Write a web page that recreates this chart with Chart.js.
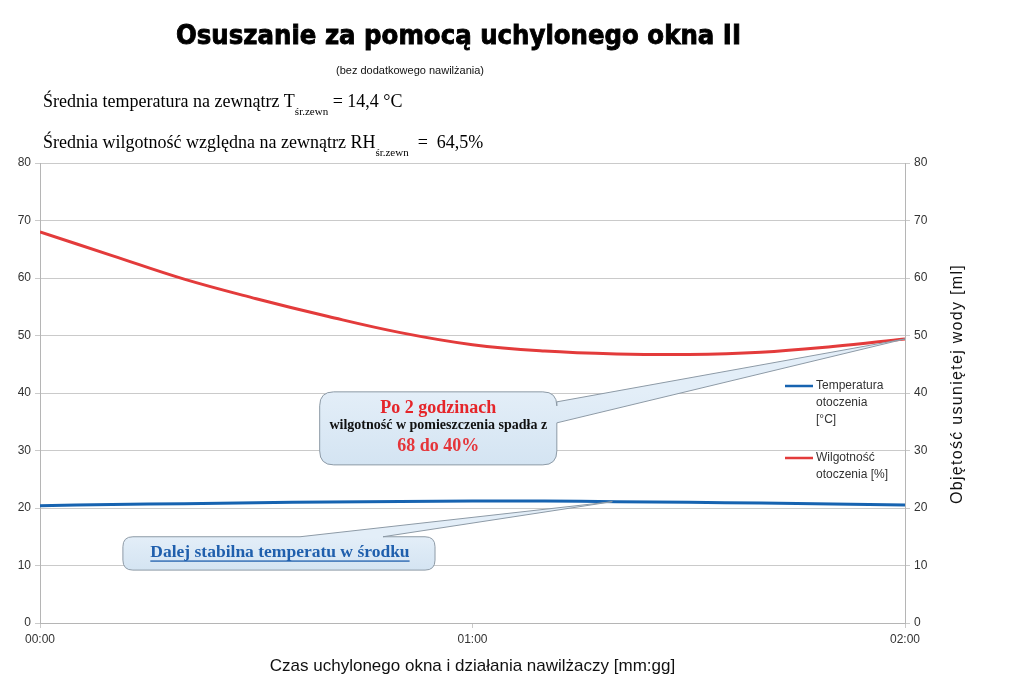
<!DOCTYPE html>
<html>
<head>
<meta charset="utf-8">
<script src="https://cdn.jsdelivr.net/npm/chart.js@4/dist/chart.umd.min.js"></script>
<style>
html,body{margin:0;padding:0;background:#fff;}
#wrap{width:1024px;height:690px;position:relative;}
</style>
</head>
<body>
<div id="wrap"><canvas id="c" width="1024" height="690"></canvas></div>
<script>
// ---- data ----
const timeMinutes = [0, 10, 20, 30, 40, 50, 60, 70, 80, 90, 100, 110, 120];
const temperature = [20.4, 20.6, 20.75, 20.9, 21.05, 21.15, 21.2, 21.2, 21.1, 21.0, 20.85, 20.7, 20.5];
const humidity    = [68.0, 63.9, 59.8, 56.4, 53.3, 50.5, 48.4, 47.3, 46.8, 46.7, 47.1, 48.1, 49.4];
const xTickValues = [0, 60, 120];
const xTickLabels = ['00:00', '01:00', '02:00'];
const seriesNames = [['Temperatura', 'otoczenia', '[°C]'], ['Wilgotność', 'otoczenia [%]']];
const titleText = 'Osuszanie za pomocą uchylonego okna II';
const subtitleText = '(bez dodatkowego nawilżania)';
const xTitle = 'Czas uchylonego okna i działania nawilżaczy [mm:gg]';
const y2Title = 'Objętość usuniętej wody [ml]';

const BLUE = '#1763b0';
const RED = '#e33b3b';
const GRID = '#cacaca';

const textPlugin = {
  id: 'texts',
  afterDraw(chart) {
    const ctx = chart.ctx;
    ctx.save();
    // title
    ctx.fillStyle = '#000';
    ctx.strokeStyle = '#000';
    ctx.textBaseline = 'alphabetic';
    ctx.font = 'bold 27px "DejaVu Sans"';
    let w = ctx.measureText(titleText).width;
    ctx.save();
    ctx.translate(176, 44);
    ctx.scale(565 / w, 1);
    ctx.lineWidth = 0.9;
    ctx.fillText(titleText, 0, 0);
    ctx.strokeText(titleText, 0, 0);
    ctx.restore();
    // subtitle
    ctx.font = '11px "Liberation Sans"';
    ctx.fillStyle = '#111';
    ctx.fillText(subtitleText, 336, 74);
    // serif lines
    function line(parts, x, y) {
      for (const p of parts) {
        ctx.font = p.sub ? '11px "Liberation Serif"' : '18px "Liberation Serif"';
        ctx.fillText(p.t, x, y + (p.sub ? 8 : 0));
        x += ctx.measureText(p.t).width;
      }
    }
    ctx.fillStyle = '#000';
    line([{t:'Średnia temperatura na zewnątrz T'},{t:'śr.zewn', sub:true},{t:' = 14,4 °C'}], 43, 107);
    line([{t:'Średnia wilgotność względna na zewnątrz RH'},{t:'śr.zewn', sub:true},{t:'  =  64,5%'}], 43, 148);
    // right axis title (rotated, reading bottom to top, letter-spaced)
    ctx.save();
    ctx.font = '16px "Liberation Sans"';
    ctx.fillStyle = '#111';
    ctx.textAlign = 'center';
    ctx.textBaseline = 'middle';
    const base = ctx.measureText(y2Title).width;
    const n = y2Title.length;
    ctx.letterSpacing = Math.max(0, (240 - base) / n).toFixed(2) + 'px';
    ctx.translate(958, 384);
    ctx.rotate(-Math.PI / 2);
    ctx.fillText(y2Title, 0, 0);
    ctx.restore();
    ctx.restore();
  }
};

function bubblePath(ctx, x0, y0, x1, y1, r, ptr) {
  ctx.beginPath();
  ctx.moveTo(x0 + r, y0);
  if (ptr.side === 'top') {
    ctx.lineTo(ptr.a, y0);
    ctx.lineTo(ptr.tx, ptr.ty);
    ctx.lineTo(ptr.b, y0);
  }
  ctx.lineTo(x1 - r, y0);
  ctx.quadraticCurveTo(x1, y0, x1, y0 + r);
  if (ptr.side === 'right') {
    ctx.lineTo(x1, ptr.a);
    ctx.lineTo(ptr.tx, ptr.ty);
    ctx.lineTo(x1, ptr.b);
  }
  ctx.lineTo(x1, y1 - r);
  ctx.quadraticCurveTo(x1, y1, x1 - r, y1);
  ctx.lineTo(x0 + r, y1);
  ctx.quadraticCurveTo(x0, y1, x0, y1 - r);
  ctx.lineTo(x0, y0 + r);
  ctx.quadraticCurveTo(x0, y0, x0 + r, y0);
  ctx.closePath();
}

const calloutPlugin = {
  id: 'callouts',
  afterDatasetsDraw(chart) {
    const ctx = chart.ctx;
    const xs = chart.scales.x, ys = chart.scales.y;
    ctx.save();
    // bubble 1 -> end of humidity
    const last = timeMinutes.length - 1;
    const t1x = xs.getPixelForValue(timeMinutes[last]);
    const t1y = ys.getPixelForValue(humidity[last]);
    let x0 = xs.getPixelForValue(38.8), x1 = xs.getPixelForValue(71.7);
    let y0 = ys.getPixelForValue(40.2), y1 = ys.getPixelForValue(27.5);
    const g1 = ctx.createLinearGradient(0, y0, 0, y1);
    g1.addColorStop(0, '#e3eef8'); g1.addColorStop(1, '#d4e4f2');
    bubblePath(ctx, x0, y0, x1, y1, 14, {side:'right', a: y0 + 10, b: y0 + 31, tx: t1x, ty: t1y});
    ctx.fillStyle = g1; ctx.fill();
    ctx.strokeStyle = '#8d9aa6'; ctx.lineWidth = 1; ctx.stroke();
    const cx1 = (x0 + x1) / 2;
    ctx.textAlign = 'center'; ctx.textBaseline = 'middle';
    ctx.fillStyle = '#e5252a';
    ctx.font = 'bold 18px "Liberation Serif"';
    ctx.fillText('Po 2 godzinach', cx1, y0 + 16);
    ctx.fillStyle = '#111';
    ctx.font = 'bold 14px "Liberation Serif"';
    ctx.fillText('wilgotność w pomieszczenia spadła z', cx1, y0 + 34);
    ctx.fillStyle = '#e5353a';
    ctx.font = 'bold 18px "Liberation Serif"';
    ctx.fillText('68 do 40%', cx1, y0 + 54);

    // bubble 2 -> temperature line
    const t2x = xs.getPixelForValue(79.4);
    const t2y = ys.getPixelForValue(21.1);
    x0 = xs.getPixelForValue(11.5); x1 = xs.getPixelForValue(54.8);
    y0 = ys.getPixelForValue(15.0); y1 = ys.getPixelForValue(9.2);
    const g2 = ctx.createLinearGradient(0, y0, 0, y1);
    g2.addColorStop(0, '#e3eef8'); g2.addColorStop(1, '#d4e4f2');
    bubblePath(ctx, x0, y0, x1, y1, 10, {side:'top', a: 300, b: 383, tx: t2x, ty: t2y});
    ctx.fillStyle = g2; ctx.fill();
    ctx.strokeStyle = '#8d9aa6'; ctx.stroke();
    const cx2 = (x0 + x1) / 2 + 1, cy2 = (y0 + y1) / 2;
    ctx.fillStyle = '#1f5fad';
    ctx.font = 'bold 17.5px "Liberation Serif"';
    const s = 'Dalej stabilna temperatu w środku';
    ctx.fillText(s, cx2, cy2 - 1);
    const sw = ctx.measureText(s).width;
    ctx.fillRect(cx2 - sw / 2, cy2 + 7, sw, 1.3);
    ctx.restore();
  },
  afterDraw(chart) {
    // legend inside plot
    const ctx = chart.ctx;
    ctx.save();
    ctx.font = '12px "Liberation Sans"';
    ctx.fillStyle = '#333';
    ctx.textBaseline = 'middle';
    ctx.textAlign = 'left';
    const items = [{c: BLUE, y: 386, lines: seriesNames[0]}, {c: RED, y: 458, lines: seriesNames[1]}];
    for (const it of items) {
      ctx.strokeStyle = it.c; ctx.lineWidth = 2.5;
      ctx.beginPath(); ctx.moveTo(785, it.y); ctx.lineTo(813, it.y); ctx.stroke();
      it.lines.forEach((l, i) => ctx.fillText(l, 816, it.y + i * 17));
    }
    ctx.restore();
  }
};

new Chart(document.getElementById('c'), {
  type: 'line',
  data: {
    datasets: [
      { label: 'Temperatura otoczenia [°C]', data: timeMinutes.map((t, i) => ({x: t, y: temperature[i]})),
        borderColor: BLUE, borderWidth: 3, pointRadius: 0, tension: 0.4, yAxisID: 'y' },
      { label: 'Wilgotność otoczenia [%]', data: timeMinutes.map((t, i) => ({x: t, y: humidity[i]})),
        borderColor: RED, borderWidth: 3, pointRadius: 0, tension: 0.4, yAxisID: 'y' }
    ]
  },
  options: {
    responsive: false,
    animation: false,
    layout: { padding: { top: 163, left: 0, right: 0, bottom: 0 } },
    plugins: { legend: { display: false }, tooltip: { enabled: false }, title: { display: false } },
    scales: {
      x: {
        type: 'linear', min: 0, max: 120,
        afterFit(s) { s.height = 67; },
        afterBuildTicks(s) { s.ticks = xTickValues.map(v => ({value: v})); },
        ticks: { callback: (v) => xTickLabels[xTickValues.indexOf(v)], color: '#333', font: { family: 'Liberation Sans', size: 12 }, padding: 4, maxRotation: 0 },
        grid: { color: GRID, tickLength: 5, drawOnChartArea: false },
        border: { color: '#b5b5b5' },
        title: { display: true, text: xTitle, color: '#111', font: { family: 'Liberation Sans', size: 17 }, padding: { top: 6, bottom: 13 } }
      },
      y: {
        position: 'left', min: 0, max: 80,
        afterFit(s) { s.width = 40; },
        ticks: { stepSize: 10, color: '#333', font: { family: 'Liberation Sans', size: 12 }, padding: 4 },
        grid: { color: GRID, tickLength: 5 },
        border: { color: '#b5b5b5' }
      },
      y2: {
        position: 'right', min: 0, max: 80,
        afterFit(s) { s.width = 119; },
        ticks: { stepSize: 10, color: '#333', font: { family: 'Liberation Sans', size: 12 }, padding: 4 },
        grid: { drawOnChartArea: false, color: GRID, tickLength: 5 },
        border: { color: '#b5b5b5' }
      }
    }
  },
  plugins: [textPlugin, calloutPlugin]
});
</script>
</body>
</html>
